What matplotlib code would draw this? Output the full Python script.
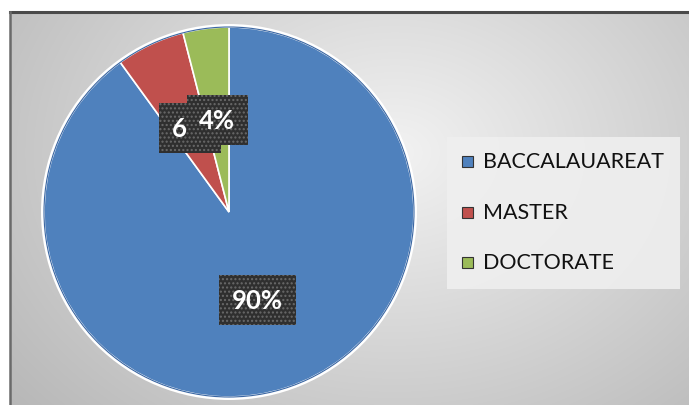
import numpy as np
import matplotlib
matplotlib.use("Agg")
import matplotlib.pyplot as plt
from matplotlib.patches import Rectangle, Circle

categories = ["BACCALAUAREAT", "MASTER", "DOCTORATE"]
values = [90, 6, 4]
colors = ["#4F81BD", "#C0504D", "#9BBB59"]

W, H = 689, 406
fig = plt.figure(figsize=(W / 100, H / 100), dpi=100)
fig.patch.set_facecolor("white")

# background gradient (pixel coords, y up)
bg = fig.add_axes([0, 0, 1, 1])
bg.set_xlim(0, W)
bg.set_ylim(0, H)
bg.axis("off")
yy, xx = np.mgrid[0:H, 0:W]
cx, cy = 390, 260
r = np.sqrt(((xx - cx) / 420.0) ** 2 + ((yy - cy) / 330.0) ** 2)
g = np.clip(0.95 - 0.19 * r, 0, 1)
img = np.dstack([g, g, g])
bg.imshow(img, extent=[10, W, 0, H - 13], origin="lower", aspect="auto", zorder=0)
bg.plot([10, W], [H - 13, H - 13], color="#4a4a4a", lw=2.2, zorder=2)
bg.plot([10, 10], [0, H - 13], color="#6a6a6a", lw=1.8, zorder=2)

# legend box
bg.add_patch(Rectangle((447, H - 290), 233, 152, facecolor="#efefef", edgecolor="none", zorder=1, alpha=0.9))

ax = fig.add_axes([0, 0, 1, 1])
ax.set_xlim(0, W)
ax.set_ylim(0, H)
ax.set_aspect("equal")
ax.axis("off")
ax.patch.set_alpha(0)

center = (229, H - 213)
radius = 185
ax.add_patch(Circle(center, radius + 3, facecolor="white", edgecolor="none", zorder=0))
wedges, texts, autotexts = ax.pie(
    values, colors=colors, startangle=90, counterclock=False,
    center=center, radius=radius, frame=True,
    autopct="%1.0f%%", pctdistance=0.5,
    wedgeprops=dict(edgecolor="white", linewidth=1.2),
    textprops=dict(color="white", fontsize=18.5, fontweight="bold", family=["Lato", "DejaVu Sans"]),
)
ax.set_xlim(0, W)
ax.set_ylim(0, H)
ax.axis("off")
ax.add_patch(Circle(center, radius, facecolor="none", edgecolor="#3b67a3", lw=0.8, zorder=3))
for t in autotexts:
    t.set_zorder(5)
    t.set_bbox(dict(boxstyle="square,pad=0.5", facecolor="#2f2f2f", edgecolor="#6a6a6a",
                    hatch="....", linewidth=0))

# legend
rows_y = [162, 213, 263]
for lab, col, y in zip(categories, colors, rows_y):
    ax.add_patch(Rectangle((462, H - y - 5.5), 11, 11, facecolor=col, edgecolor="#333333", lw=0.8, zorder=4))
    ax.text(483, H - y, lab, fontsize=15.5, family=["Lato", "DejaVu Sans"], color="#111111",
            va="center", ha="left", zorder=4)

fig.savefig("out.png", dpi=100)
